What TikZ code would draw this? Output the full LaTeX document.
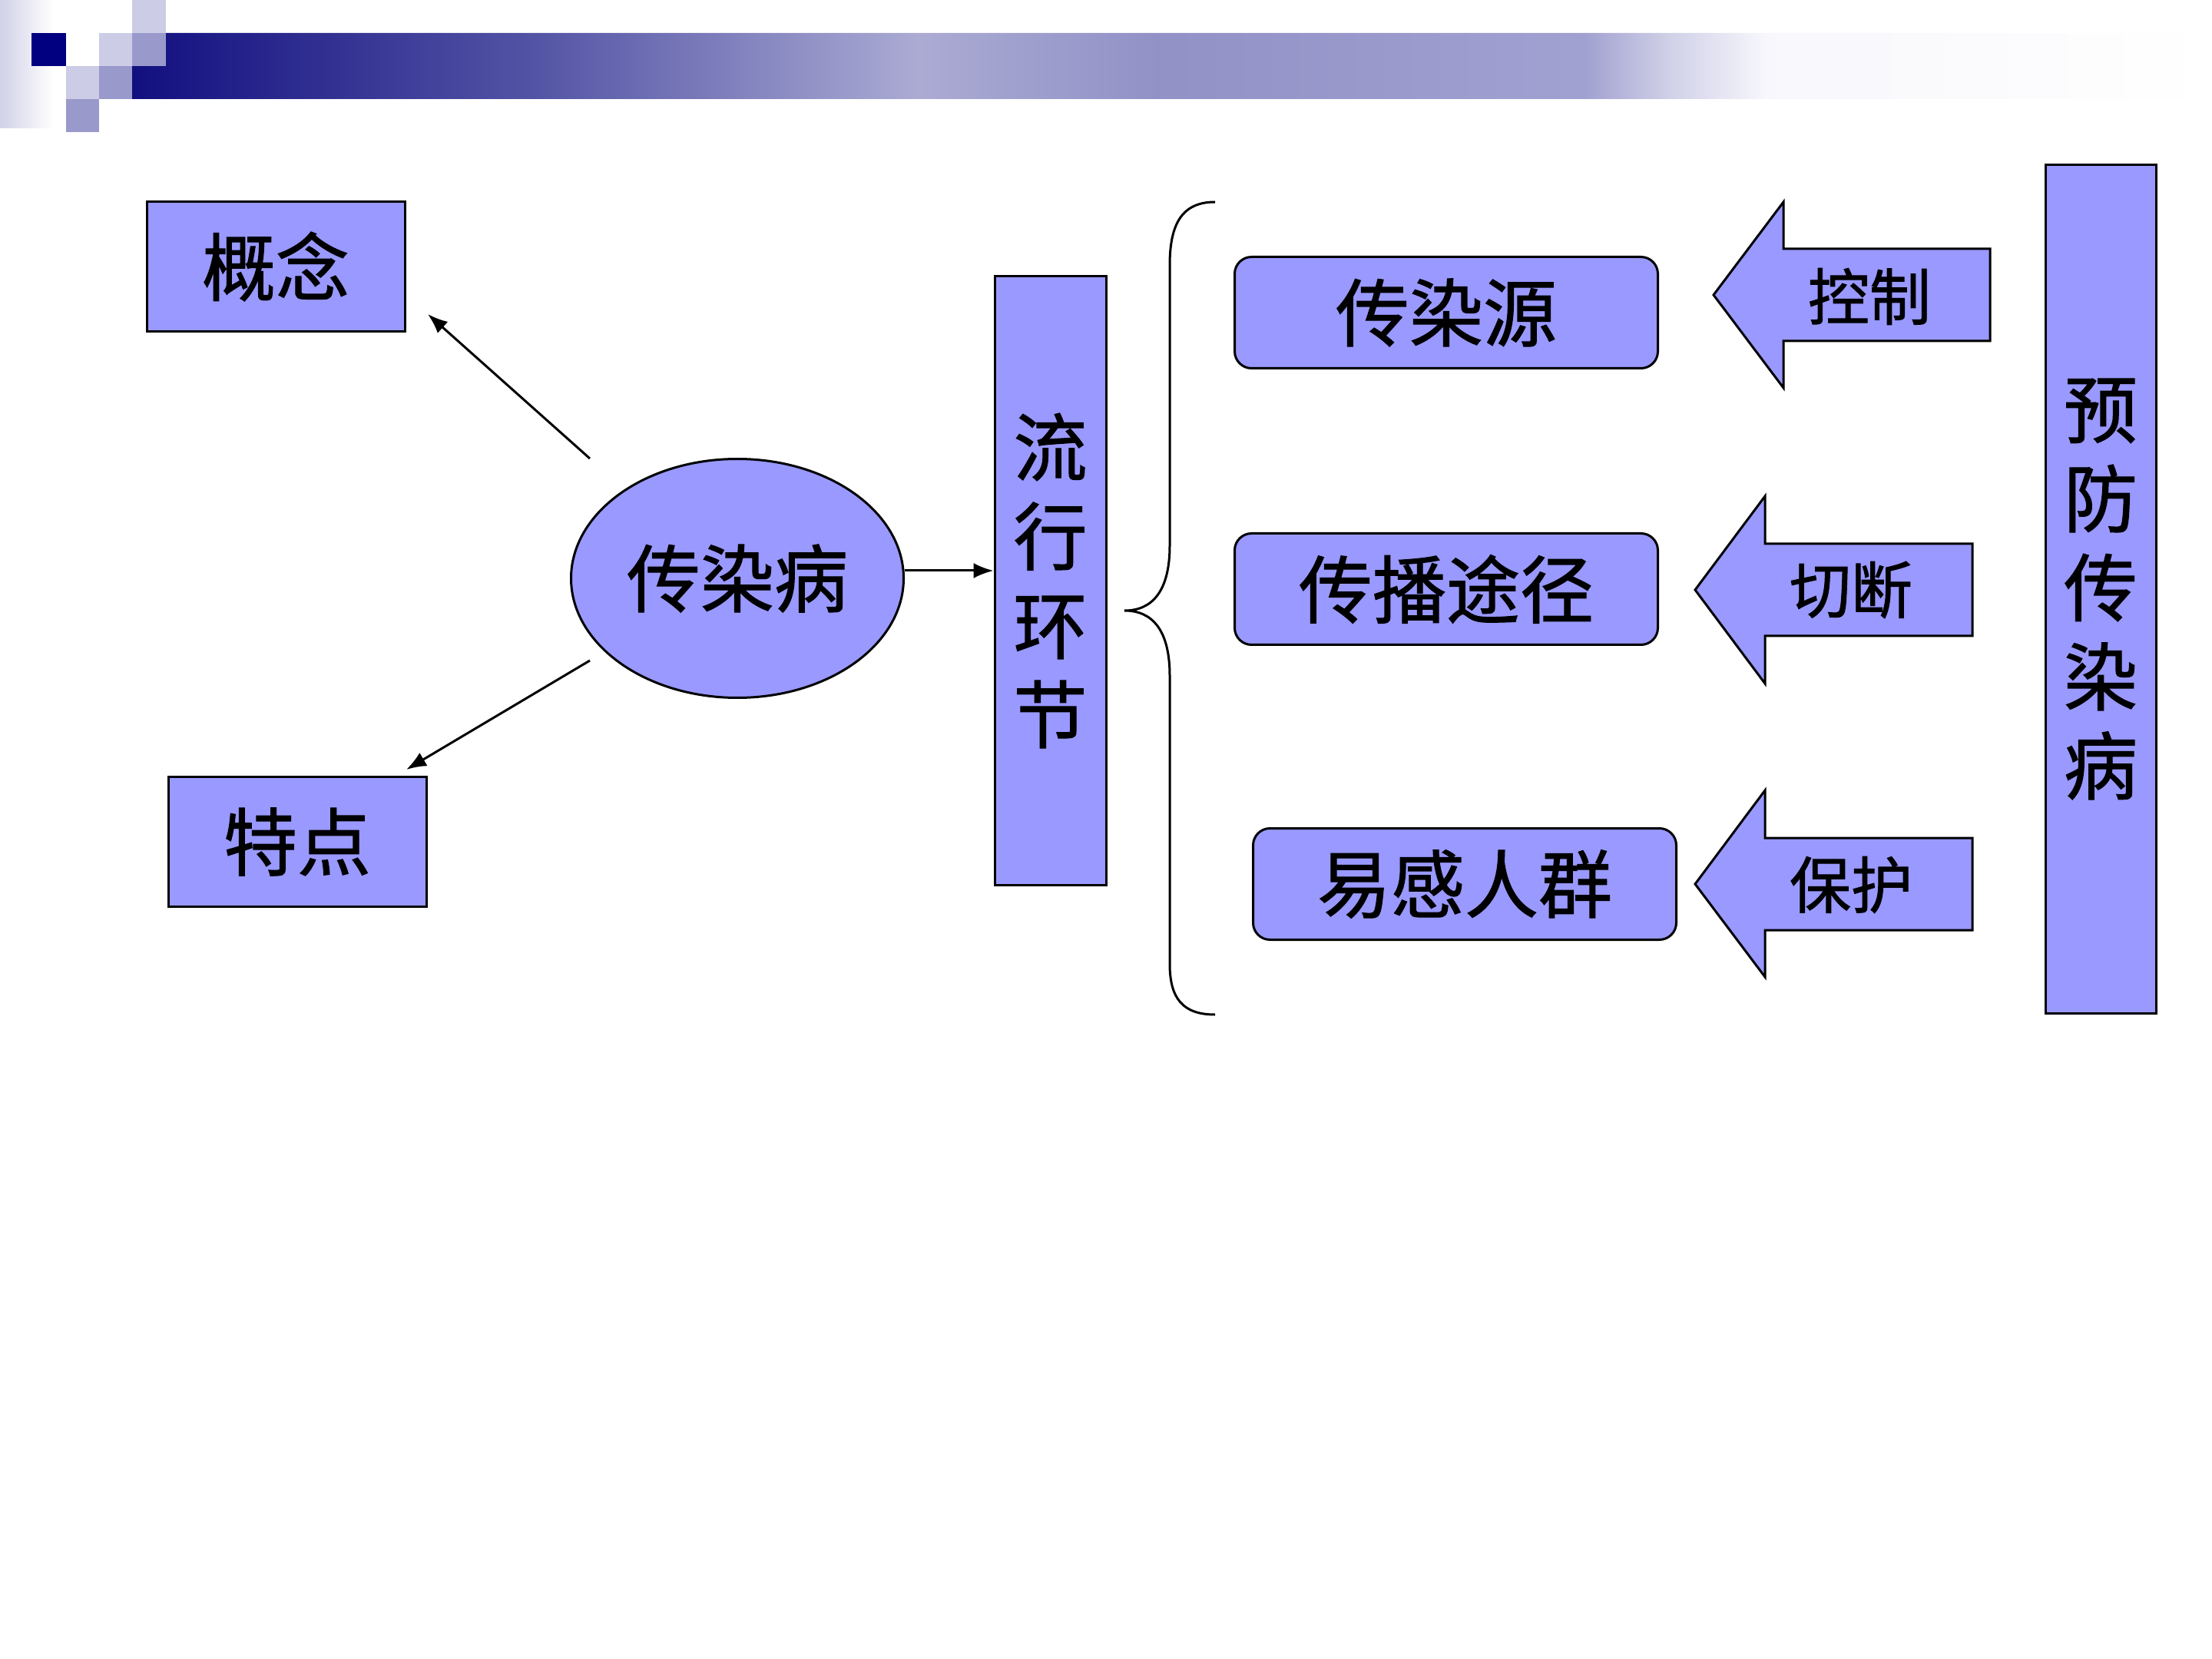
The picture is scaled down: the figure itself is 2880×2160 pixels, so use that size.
\documentclass[tikz,border=0pt]{standalone}
\usepackage{fontspec}
\newfontfamily\cjk[FakeBold=1.2]{Noto Sans CJK SC}
\usepackage{tikz}
\usetikzlibrary{arrows.meta,shapes.geometric}
\tikzset{every picture/.style={line width=0.75pt}}
\definecolor{boxblue}{RGB}{153,153,255}
\definecolor{navyblue}{RGB}{0,0,128}
\definecolor{paleblue}{RGB}{204,204,230}
\definecolor{midblue}{RGB}{153,153,204}
\pgfdeclarehorizontalshading{barshade}{100bp}{rgb(0bp)=(0.07,0.06,0.50); rgb(25bp)=(0.07,0.06,0.50); rgb(34.75bp)=(0.33,0.33,0.65); rgb(43.9bp)=(0.67,0.67,0.83); rgb(49.6bp)=(0.57,0.57,0.78); rgb(59.9bp)=(0.63,0.63,0.82); rgb(62bp)=(0.82,0.82,0.91); rgb(64.3bp)=(0.97,0.97,0.99); rgb(75bp)=(1,1,1); rgb(100bp)=(1,1,1)}
\tikzset{
  bigtext/.style={font=\cjk\fontsize{24}{29}\selectfont},
  smalltext/.style={font=\cjk\fontsize{20}{24}\selectfont},
  blockbox/.style={draw, fill=boxblue, inner sep=0pt, bigtext},
  roundbox/.style={blockbox, rounded corners=5.5pt},
  conn/.style={-{Latex[length=6.5pt,width=5pt]}},
}

\begin{document}
\begin{tikzpicture}[x=0.25pt,y=0.25pt,yscale=-1,xscale=1]
	\useasboundingbox (0,0) rectangle (2880,2160);

	%Shape: Header strip
	\fill [left color=paleblue!90, right color=white] (0,0) rectangle (70,167);
	\shade [shading=barshade] (216,43) -- (2880,43) -- (2880,129) -- (172,129) -- (172,86) -- (216,86) -- cycle;
	%Shape: Header squares
	\fill [navyblue] (41,43) rectangle (86,86);
	\fill [paleblue] (129,43) rectangle (172,86);
	\fill [paleblue] (172,0) rectangle (216,43);
	\fill [midblue] (172,43) rectangle (216,86);
	\fill [paleblue] (86,86) rectangle (129,129);
	\fill [midblue] (129,86) rectangle (172,129);
	\fill [midblue] (86,129) rectangle (129,172);

	% Text Node
	\draw (359,347) node [blockbox, minimum width=84pt, minimum height=42.25pt] (gainian) {概念};
	% Text Node
	\draw (387,1096) node [blockbox, minimum width=84pt, minimum height=42.25pt] (tedian) {特点};
	% Text Node
	\draw (960,753) node [blockbox, ellipse, minimum width=108.25pt, minimum height=77.75pt] (bing) {传染病};
	% Text Node
	\draw (1367.5,756) node [blockbox, minimum width=36.25pt, minimum height=198pt, align=center] (huanjie) {流\\行\\环\\节};
	% Text Node
	\draw (2735,767) node [blockbox, minimum width=36pt, minimum height=276pt, align=center] (yufang) {预\\防\\传\\染\\病};

	%Straight Lines
	\coordinate (gn-tip) at (557,409);
	\coordinate (gn-tail) at (768,597);
	\coordinate (td-tip) at (529,1002);
	\coordinate (td-tail) at (768,860);
	\draw [conn] (gn-tail) -- (gn-tip);
	\draw [conn] (td-tail) -- (td-tip);
	\draw [conn] ([yshift=-2.5pt]bing.east) -- ([yshift=-2.5pt]bing.east -| huanjie.west);

	%Curve Lines: brace
	\draw (1582,263) .. controls (1540,263) and (1523,290) .. (1523,345) -- (1523,710) .. controls (1523,770) and (1500,795) .. (1464,795) .. controls (1500,795) and (1523,820) .. (1523,880) -- (1523,1255) .. controls (1523,1300) and (1540,1321) .. (1582,1321);

	% Text Node
	\draw (1883,407) node [roundbox, minimum width=137.75pt, minimum height=36.25pt] (yuan) {传染源};
	% Text Node
	\draw (1883,767) node [roundbox, minimum width=137.75pt, minimum height=36.25pt] (tujing) {传播途径};
	% Text Node
	\draw (1907,1151) node [roundbox, minimum width=137.75pt, minimum height=36.25pt] (renqun) {易感人群};

	%Shape: Left Arrows
	\draw [fill=boxblue] (2231,384) -- (2322,263) -- (2322,324) -- (2591,324) -- (2591,444) -- (2322,444) -- (2322,505) -- cycle;
	\draw [fill=boxblue] (2207,768) -- (2298,646) -- (2298,708) -- (2568,708) -- (2568,828) -- (2298,828) -- (2298,890) -- cycle;
	\draw [fill=boxblue] (2207,1151) -- (2298,1029) -- (2298,1091) -- (2568,1091) -- (2568,1211) -- (2298,1211) -- (2298,1272) -- cycle;
	% Text Node
	\draw (2434,386) node [smalltext] (kongzhi) {控制};
	% Text Node
	\draw (2410,768) node [smalltext] (qieduan) {切断};
	% Text Node
	\draw (2410,1152) node [smalltext] (baohu) {保护};
\end{tikzpicture}
\end{document}
